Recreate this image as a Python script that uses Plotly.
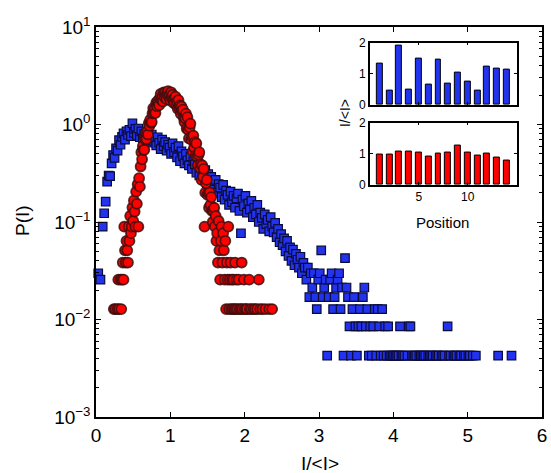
import plotly.graph_objects as go

# ---------------- data ----------------
# Blue squares: P(I) vs I/<I>
blue_x = [0.03, 0.06, 0.09, 0.11, 0.13, 0.15, 0.17, 0.19, 0.21, 0.23, 0.25, 0.27, 0.29, 0.31, 0.33,
          0.35, 0.37, 0.39, 0.41, 0.43, 0.45, 0.47, 0.49, 0.51, 0.53, 0.55, 0.57, 0.59, 0.61, 0.63,
          0.65, 0.67, 0.69, 0.71, 0.73, 0.75, 0.77, 0.79, 0.81, 0.83, 0.85, 0.87, 0.89, 0.91, 0.93,
          0.95, 0.97, 0.99, 1.01, 1.03, 1.05, 1.07, 1.09, 1.11, 1.13, 1.15, 1.17, 1.19, 1.21, 1.23,
          1.25, 1.27, 1.29, 1.31, 1.33, 1.35, 1.37, 1.39, 1.41, 1.43, 1.45, 1.47, 1.49, 1.51, 1.53,
          1.55, 1.57, 1.59, 1.61, 1.63, 1.65, 1.67, 1.69, 1.71, 1.73, 1.75, 1.77, 1.79, 1.81, 1.83,
          1.85, 1.87, 1.89, 1.91, 1.93, 1.95, 1.97, 1.99, 2.01, 2.03, 2.05, 2.07, 2.09, 2.11, 2.13,
          2.15, 2.17, 2.19, 2.21, 2.23, 2.25, 2.27, 2.29, 2.31, 2.33, 2.35, 2.37, 2.39, 2.41, 2.43,
          2.45, 2.47, 2.49, 2.51, 2.53, 2.55, 2.57, 2.59, 2.61, 2.63, 2.65, 2.67, 2.69, 2.71, 2.73,
          2.75, 2.77, 2.79, 2.81, 2.83, 2.85, 2.87, 2.89, 2.91, 2.93, 2.95, 2.97, 2.99, 3.01, 3.03,
          3.05, 3.07, 3.09, 3.11, 3.13, 3.15, 3.17, 3.19, 3.21, 3.23, 3.25, 3.27, 3.29, 3.31, 3.33,
          3.35, 3.37, 3.39, 3.41, 3.43, 3.45, 3.47, 3.49, 3.51, 3.53, 3.55, 3.57, 3.59, 3.61, 3.63,
          3.65, 3.67, 3.69, 3.71, 3.73, 3.75, 3.77, 3.79, 3.81, 3.83, 3.85, 3.87, 3.89, 3.91, 3.93,
          3.95, 3.97, 3.99, 4.01, 4.03, 4.05, 4.07, 4.09, 4.11, 4.13, 4.15, 4.19, 4.21, 4.23, 4.25,
          4.27, 4.29, 4.31, 4.35, 4.37, 4.39, 4.41, 4.43, 4.47, 4.49, 4.51, 4.53, 4.57, 4.59, 4.61,
          4.65, 4.67, 4.69, 4.73, 4.75, 4.77, 4.81, 4.83, 4.85, 4.89, 4.91, 4.95, 4.97, 5.01, 5.03,
          5.07, 5.11, 5.41, 5.59]
blue_p = [0.0298, 0.0256, 0.0895, 0.123, 0.162, 0.259, 0.300, 0.295, 0.400, 0.486, 0.455, 0.570, 0.540, 0.690, 0.620,
          0.745, 0.810, 0.700, 0.850, 0.780, 0.880, 0.760, 1.030, 0.820, 0.900, 0.780, 0.910, 0.740, 0.850, 0.720,
          0.800, 0.690, 0.770, 0.740, 0.650, 0.790, 0.680, 0.720, 0.610, 0.740, 0.650, 0.560, 0.700, 0.600, 0.660,
          0.540, 0.620, 0.580, 0.500, 0.640, 0.520, 0.580, 0.460, 0.600, 0.420, 0.530, 0.470, 0.400, 0.500, 0.430,
          0.380, 0.470, 0.350, 0.420, 0.390, 0.320, 0.400, 0.300, 0.360, 0.330, 0.270, 0.340, 0.250, 0.310, 0.220,
          0.290, 0.260, 0.215, 0.270, 0.200, 0.245, 0.225, 0.180, 0.240, 0.170, 0.210, 0.190, 0.150, 0.205, 0.160,
          0.185, 0.140, 0.175, 0.195, 0.130, 0.0767, 0.170, 0.145, 0.185, 0.125, 0.155, 0.135, 0.165, 0.112, 0.140,
          0.120, 0.150, 0.100, 0.125, 0.110, 0.085, 0.120, 0.095, 0.105, 0.080, 0.112, 0.090, 0.078, 0.098, 0.070,
          0.085, 0.062, 0.075, 0.058, 0.068, 0.050, 0.064, 0.045, 0.055, 0.040, 0.052, 0.036, 0.047, 0.041, 0.034,
          0.044, 0.0298, 0.038, 0.0341, 0.0256, 0.0341, 0.0170, 0.0298, 0.0213, 0.0298, 0.0170, 0.0128, 0.0256, 0.0298, 0.0511,
          0.0170, 0.0213, 0.0256, 0.00426, 0.0170, 0.0256, 0.0298, 0.0128, 0.0170, 0.0213, 0.0256, 0.0298, 0.0128, 0.0213, 0.00426,
          0.0426, 0.0213, 0.0170, 0.00852, 0.00426, 0.0128, 0.0170, 0.00852, 0.00426, 0.00852, 0.0128, 0.00852, 0.0170, 0.0213, 0.00852,
          0.0128, 0.00426, 0.00852, 0.00426, 0.00852, 0.0128, 0.00426, 0.0128, 0.00852, 0.00426, 0.0128, 0.00426, 0.00852, 0.00426, 0.00852,
          0.00426, 0.00426, 0.00426, 0.00426, 0.00426, 0.00426, 0.00426, 0.00852, 0.00426, 0.00426, 0.00426, 0.00426, 0.00852, 0.00852, 0.00426,
          0.00426, 0.00426, 0.00426, 0.00426, 0.00426, 0.00426, 0.00426, 0.00426, 0.00426, 0.00426, 0.00426, 0.00426, 0.00426, 0.00426, 0.00426,
          0.00426, 0.00426, 0.00426, 0.00852, 0.00426, 0.00426, 0.00426, 0.00426, 0.00426, 0.00426, 0.00426, 0.00426, 0.00426, 0.00426, 0.00426,
          0.00426, 0.00426, 0.00426, 0.00426]

# Red circles: P(I) vs I/<I>
red_x = [0.24, 0.26, 0.29, 0.30, 0.31, 0.33, 0.34, 0.35, 0.36, 0.37, 0.38, 0.39, 0.40, 0.41, 0.42,
         0.43, 0.44, 0.45, 0.46, 0.47, 0.48, 0.49, 0.50, 0.51, 0.52, 0.53, 0.54, 0.55, 0.56, 0.57,
         0.58, 0.59, 0.60, 0.61, 0.62, 0.63, 0.64, 0.65, 0.66, 0.67, 0.68, 0.69, 0.70, 0.71, 0.72,
         0.73, 0.74, 0.75, 0.76, 0.77, 0.78, 0.79, 0.80, 0.81, 0.82, 0.83, 0.84, 0.85, 0.86, 0.87,
         0.88, 0.89, 0.90, 0.91, 0.92, 0.93, 0.94, 0.95, 0.96, 0.97, 0.98, 0.99, 1.00, 1.01, 1.02,
         1.03, 1.04, 1.05, 1.06, 1.07, 1.08, 1.09, 1.10, 1.11, 1.12, 1.13, 1.14, 1.15, 1.16, 1.17,
         1.18, 1.19, 1.20, 1.21, 1.22, 1.23, 1.24, 1.25, 1.26, 1.27, 1.28, 1.29, 1.30, 1.31, 1.32,
         1.33, 1.34, 1.35, 1.36, 1.37, 1.38, 1.39, 1.40, 1.41, 1.42, 1.43, 1.44, 1.45, 1.46, 1.47,
         1.48, 1.49, 1.50, 1.51, 1.52, 1.53, 1.54, 1.55, 1.56, 1.57, 1.58, 1.59, 1.60, 1.61, 1.62,
         1.63, 1.64, 1.65, 1.66, 1.67, 1.68, 1.69, 1.70, 1.71, 1.72, 1.73, 1.74, 1.75, 1.76, 1.77,
         1.78, 1.79, 1.80, 1.81, 1.82, 1.83, 1.84, 1.85, 1.86, 1.87, 1.88, 1.89, 1.90, 1.92, 1.93,
         1.95, 1.96, 1.97, 1.99, 2.00, 2.02, 2.03, 2.06, 2.07, 2.09, 2.12, 2.14, 2.17, 2.19, 2.21,
         2.24, 2.28, 2.33, 2.37]
red_p = [0.0128, 0.0128, 0.0128, 0.0256, 0.0128, 0.0256, 0.0128, 0.0256, 0.0384, 0.0256, 0.0896, 0.0512, 0.0384, 0.064, 0.0512,
         0.0384, 0.0896, 0.064, 0.1152, 0.0768, 0.0896, 0.1408, 0.1024, 0.1664, 0.128, 0.0896, 0.2048, 0.1536, 0.2432, 0.0896,
         0.2816, 0.2304, 0.3712, 0.52, 0.44, 0.60, 0.55, 0.55, 0.71, 0.83, 0.71, 0.85, 0.79, 1.03, 0.97,
         1.12, 1.04, 1.06, 1.30, 1.47, 1.31, 1.44, 1.31, 1.67, 1.54, 1.75, 1.65, 1.58, 1.87, 2.06,
         1.79, 1.93, 1.72, 2.13, 1.91, 2.12, 1.96, 1.82, 2.10, 2.20, 1.92, 2.03, 1.76, 2.14, 1.87,
         2.02, 1.81, 1.65, 1.85, 1.93, 1.59, 1.72, 1.45, 1.78, 1.50, 1.57, 1.29, 1.53, 1.37, 1.42,
         1.17, 1.06, 1.16, 1.29, 0.91, 1.19, 0.88, 0.72, 0.93, 1.02, 0.70, 0.75, 0.53, 0.77, 0.58,
         0.66, 0.48, 0.64, 0.47, 0.38, 0.49, 0.52, 0.36, 0.39, 0.27, 0.38, 0.29, 0.35, 0.0896, 0.20,
         0.25, 0.27, 0.19, 0.20, 0.14, 0.20, 0.15, 0.18, 0.13, 0.10, 0.13, 0.14, 0.0896, 0.1152, 0.064,
         0.0768, 0.0384, 0.1024, 0.0512, 0.0256, 0.064, 0.0896, 0.0384, 0.0768, 0.0512, 0.0256, 0.064, 0.0128, 0.0384, 0.0256,
         0.0896, 0.0128, 0.0256, 0.0384, 0.0128, 0.0256, 0.0128, 0.0256, 0.0128, 0.0384, 0.0128, 0.0256, 0.0128, 0.0256, 0.0128,
         0.0128, 0.0384, 0.0128, 0.0256, 0.0128, 0.0128, 0.0128, 0.0256, 0.0128, 0.0128, 0.0128, 0.0128, 0.0128, 0.0256, 0.0128,
         0.0128, 0.0128, 0.0128, 0.0128]

# Inset bar charts: I/<I> per position
positions = [1, 2, 3, 4, 5, 6, 7, 8, 9, 10, 11, 12, 13, 14]
blue_bars = [1.32, 0.45, 1.89, 0.50, 1.48, 0.66, 1.47, 0.70, 1.04, 0.74, 0.46, 1.23, 1.17, 1.13]
red_bars = [0.97, 0.97, 1.08, 1.06, 1.05, 0.91, 1.02, 1.03, 1.25, 1.04, 0.95, 1.01, 0.89, 0.78]

main_xticks = [0, 1, 2, 3, 4, 5, 6]
main_yticks = [0.001, 0.01, 0.1, 1, 10]
main_yticklabels = ["10<sup>\u22123</sup>", "10<sup>\u22122</sup>", "10<sup>\u22121</sup>",
                    "10<sup>0</sup>", "10<sup>1</sup>"]
minor_yticks = [m * d for d in (0.001, 0.01, 0.1, 1) for m in (2, 3, 4, 5, 6, 7, 8, 9)]
inset_xticks = [5, 10]
inset_yticks = [0, 1, 2]

FONT = "Liberation Sans, Arial, Helvetica, sans-serif"
BLUE = "#2233ee"
RED = "#ff0000"

fig = go.Figure()

fig.add_trace(go.Scatter(
    x=blue_x, y=blue_p, mode="markers", xaxis="x", yaxis="y",
    marker=dict(symbol="square", size=8.5, color=BLUE,
                line=dict(color="#0b0b3a", width=1.2)),
    showlegend=False, hoverinfo="skip", cliponaxis=False))

fig.add_trace(go.Scatter(
    x=red_x, y=red_p, mode="markers", xaxis="x", yaxis="y",
    marker=dict(symbol="circle", size=10, color=RED,
                line=dict(color="rgba(60,15,15,0.85)", width=1.8)),
    showlegend=False, hoverinfo="skip"))

fig.add_trace(go.Bar(
    x=positions, y=blue_bars, xaxis="x2", yaxis="y2", width=0.6,
    marker=dict(color=BLUE, line=dict(color="black", width=1)),
    showlegend=False, hoverinfo="skip"))

fig.add_trace(go.Bar(
    x=positions, y=red_bars, xaxis="x3", yaxis="y3", width=0.6,
    marker=dict(color=RED, line=dict(color="black", width=1)),
    showlegend=False, hoverinfo="skip"))

main_axis = dict(showline=True, linecolor="black", linewidth=1.5, mirror="ticks",
                 ticks="inside", tickcolor="black", ticklen=5, tickwidth=1,
                 showgrid=False, zeroline=False, automargin=False,
                 tickfont=dict(family=FONT, size=19, color="black"))

inset_axis = dict(showline=True, linecolor="black", linewidth=1.5, mirror="ticks",
                  ticks="inside", tickcolor="black", ticklen=3, tickwidth=1,
                  showgrid=False, zeroline=False, automargin=False,
                  tickfont=dict(family=FONT, size=12, color="black"))

fig.update_layout(
    width=551, height=473,
    margin=dict(l=96, r=9, t=27, b=56),
    paper_bgcolor="white", plot_bgcolor="white",
    font=dict(family=FONT, color="black"),
    bargap=0,
    xaxis=dict(main_axis, domain=[0, 1], range=[0, 6], tickmode="array",
               tickvals=main_xticks, anchor="y"),
    yaxis=dict(main_axis, domain=[0, 1], type="log", range=[-3, 1], tickmode="array",
               tickvals=main_yticks, ticktext=main_yticklabels, anchor="x",
               minor=dict(ticks="inside", ticklen=3, tickcolor="black", tickwidth=1,
                          tickmode="array", tickvals=minor_yticks, showgrid=False)),
    xaxis2=dict(inset_axis, domain=[0.614, 0.943], range=[0, 15], tickmode="array",
                tickvals=inset_xticks, showticklabels=False, anchor="y2"),
    yaxis2=dict(inset_axis, domain=[0.800, 0.960], range=[0, 2], tickmode="array",
                tickvals=inset_yticks, anchor="x2"),
    xaxis3=dict(inset_axis, domain=[0.614, 0.943], range=[0, 15], tickmode="array",
                tickvals=inset_xticks, anchor="y3"),
    yaxis3=dict(inset_axis, domain=[0.595, 0.755], range=[0, 2], tickmode="array",
                tickvals=inset_yticks, anchor="x3"),
    annotations=[
        dict(text="P(I)", xref="paper", yref="paper", x=-0.166, y=0.505,
             xanchor="center", yanchor="middle",
             textangle=-90, showarrow=False, font=dict(size=19, family=FONT)),
        dict(text="I/&lt;I&gt;", xref="paper", yref="paper", x=0.502, y=-0.118,
             xanchor="center", yanchor="middle",
             showarrow=False, font=dict(size=19, family=FONT)),
        dict(text="I/&lt;I&gt;", xref="paper", yref="paper", x=0.558, y=0.779,
             xanchor="center", yanchor="middle",
             textangle=-90, showarrow=False, font=dict(size=14, family=FONT)),
        dict(text="Position", xref="paper", yref="paper", x=0.778, y=0.50,
             xanchor="center", yanchor="middle",
             showarrow=False, font=dict(size=15, family=FONT)),
    ],
)

# remove the default page margin so the figure sits at the window's top-left corner
fig.write_html("out.html", config={"displayModeBar": False},
               post_script="document.body.style.margin='0';")
